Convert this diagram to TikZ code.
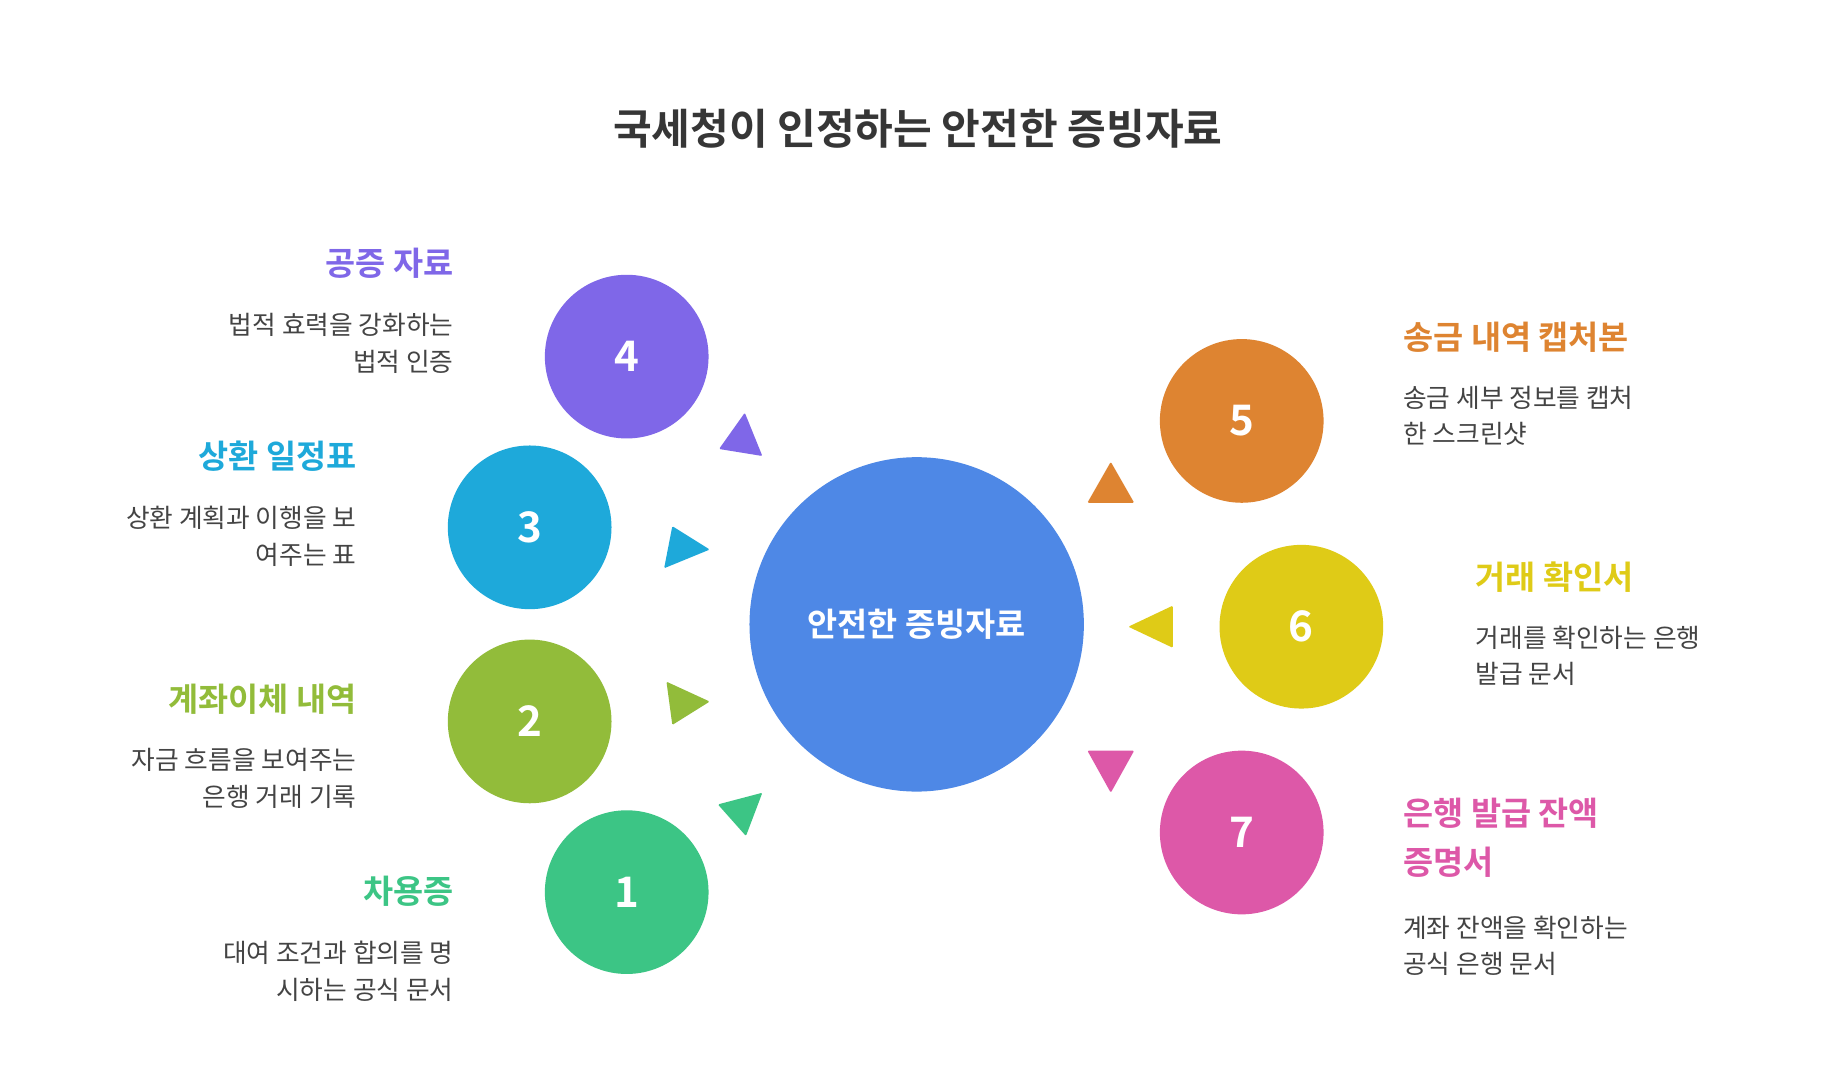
\documentclass[tikz,border=0pt]{standalone}
\usepackage{fontspec}
\setmainfont{Noto Sans CJK KR}
\newfontfamily\kb{Noto Sans CJK KR Bold}
\definecolor{cmain}{HTML}{4E88E6}
\definecolor{c4}{HTML}{7F67E8}
\definecolor{c3}{HTML}{1EA9DA}
\definecolor{c2}{HTML}{92BC3A}
\definecolor{c1}{HTML}{3CC585}
\definecolor{c5}{HTML}{DE8431}
\definecolor{c6}{HTML}{DFCB17}
\definecolor{c7}{HTML}{DD58A8}
\definecolor{txt}{HTML}{444444}
\tikzset{
 num/.style={circle,minimum size=140pt,inner sep=0pt,text=white,font=\kb\fontsize{36}{40}\selectfont},
 ttl/.style={font=\kb\fontsize{28}{34}\selectfont,inner sep=0pt},
 dsc/.style={font=\fontsize{22}{31}\selectfont,text=txt,inner sep=0pt},
 tri/.style={rounded corners=1pt}
}
\begin{document}
\begin{tikzpicture}[x=1pt,y=-1pt]
\useasboundingbox[fill=white] (0,0) rectangle (1560,910);
\node[font=\kb\fontsize{36}{40}\selectfont,text=txt!80!black] (title) at (785,110) {국세청이 인정하는 안전한 증빙자료};
\node[circle,fill=cmain,minimum size=286pt,text=white,font=\kb\fontsize{28}{34}\selectfont] (main) at (784,534) {안전한 증빙자료};
\node[num,fill=c4] (n4) at (536,305) {4};
\node[num,fill=c3] (n3) at (453,451) {3};
\node[num,fill=c2] (n2) at (453,617) {2};
\node[num,fill=c1] (n1) at (536,763) {1};
\node[num,fill=c5] (n5) at (1062,360) {5};
\node[num,fill=c6] (n6) at (1113,536) {6};
\node[num,fill=c7] (n7) at (1062,712) {7};
% pointers
\fill[c4,tri] (637,353) -- (615,384) -- (652,390) -- cycle;
\fill[c3,tri] (575,450) -- (607,470) -- (568,486) -- cycle;
\fill[c2,tri] (570,583) -- (607,600) -- (575,620) -- cycle;
\fill[c1,tri] (614,688) -- (652,678) -- (638,715) -- cycle;
\fill[c5,tri] (930,430) -- (970,430) -- (950,395) -- cycle;
\fill[c6,tri] (965,536) -- (1003,518) -- (1003,554) -- cycle;
\fill[c7,tri] (930,642) -- (970,642) -- (950,678) -- cycle;
% labels
\node[ttl,text=c4,anchor=east] (t4) at (388,225) {공증 자료};
\node[dsc,anchor=north east,align=right] (d4) at (388,268) {법적 효력을 강화하는\\법적 인증};
\node[ttl,text=c3,anchor=east] (t3) at (305,390) {상환 일정표};
\node[dsc,anchor=north east,align=right] (d3) at (305,433) {상환 계획과 이행을 보\\여주는 표};
\node[ttl,text=c2,anchor=east] (t2) at (305,598) {계좌이체 내역};
\node[dsc,anchor=north east,align=right] (d2) at (305,640) {자금 흐름을 보여주는\\은행 거래 기록};
\node[ttl,text=c1,anchor=east] (t1) at (388,762) {차용증};
\node[dsc,anchor=north east,align=right] (d1) at (388,805) {대여 조건과 합의를 명\\시하는 공식 문서};
\node[ttl,text=c5,anchor=west] (t5) at (1200,288) {송금 내역 캡처본};
\node[dsc,anchor=north west,align=left] (d5) at (1200,330) {송금 세부 정보를 캡처\\한 스크린샷};
\node[ttl,text=c6,anchor=west] (t6) at (1262,494) {거래 확인서};
\node[dsc,anchor=north west,align=left] (d6) at (1262,535) {거래를 확인하는 은행\\발급 문서};
\node[ttl,text=c7,anchor=north west,align=left,font=\kb\fontsize{28}{42}\selectfont] (t7) at (1200,682) {은행 발급 잔액\\증명서};
\node[dsc,anchor=north west,align=left] (d7) at (1200,783) {계좌 잔액을 확인하는\\공식 은행 문서};
\end{tikzpicture}
\end{document}
